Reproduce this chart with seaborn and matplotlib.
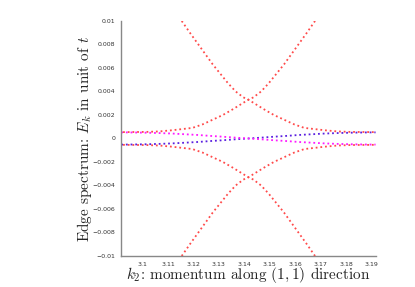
import numpy as np
import pandas as pd
import matplotlib
matplotlib.use("Agg")
import matplotlib.pyplot as plt
import seaborn as sns

# momentum offsets from k2 = pi
dk_red = [-0.0262, -0.023, -0.020, -0.017, -0.014, -0.011, -0.008, -0.005, -0.002,
          0.0, 0.003, 0.006, 0.010, 0.014, 0.018, 0.022, 0.026, 0.030, 0.035, 0.040, 0.050]
# energy of the red branch that falls from the top-left to the right plateau
e_red = [0.0100, 0.0090, 0.0081, 0.0072, 0.0063, 0.0055, 0.0047, 0.0040, 0.0035,
         0.0033, 0.0029, 0.0025, 0.0020, 0.0016, 0.0012, 0.0009, 0.0008, 0.0007,
         0.0006, 0.00056, 0.00054]

# in-gap branches (magenta falls, blue rises)
dk_gap = [-0.05, -0.045, -0.04, -0.035, -0.03, -0.025, -0.02, -0.015, -0.01, -0.005, 0.0,
          0.005, 0.01, 0.015, 0.02, 0.025, 0.03, 0.035, 0.04, 0.045, 0.05]
e_magenta = [0.00052, 0.00051, 0.00049, 0.00046, 0.00042, 0.00036, 0.00030, 0.00022,
             0.00015, 0.00007, 0.0, -0.00007, -0.00015, -0.00022, -0.00030, -0.00036,
             -0.00042, -0.00046, -0.00049, -0.00051, -0.00052]

x_ticks = [3.1, 3.11, 3.12, 3.13, 3.14, 3.15, 3.16, 3.17, 3.18, 3.19]
x_labels = ["3.1", "3.11", "3.12", "3.13", "3.14", "3.15", "3.16", "3.17", "3.18", "3.19"]
y_ticks = [-0.01, -0.008, -0.006, -0.004, -0.002, 0, 0.002, 0.004, 0.006, 0.008, 0.01]
y_labels = ["\u22120.01", "\u22120.008", "\u22120.006", "\u22120.004", "\u22120.002", "0",
            "0.002", "0.004", "0.006", "0.008", "0.01"]

sns.set_style("white")
plt.rcParams["mathtext.fontset"] = "cm"

k0 = np.pi
dk_red = np.array(dk_red)
e_red = np.array(e_red)
dk_gap = np.array(dk_gap)
e_magenta = np.array(e_magenta)

red_curves = [
    (k0 + dk_red, e_red),
    (k0 - dk_red, e_red),
    (k0 + dk_red, -e_red),
    (k0 - dk_red, -e_red),
]

fig = plt.figure(figsize=(4.15, 2.87), dpi=100)
ax = fig.add_axes([0.292, 0.108, 0.613, 0.819])

dots = (0, (1, 1.6))
for kk, ee in red_curves:
    sns.lineplot(x=kk, y=ee, ax=ax, color="#ff4a4a", lw=1.3, linestyle=dots,
                 sort=False, estimator=None)

sns.lineplot(x=k0 + dk_gap, y=-e_magenta, ax=ax, color="#5a1fe0", lw=1.3,
             linestyle=dots, sort=False, estimator=None)
sns.lineplot(x=k0 + dk_gap, y=e_magenta, ax=ax, color="#ff1aff", lw=1.3,
             linestyle=dots, sort=False, estimator=None)

ax.set_xlim(k0 - 0.05, k0 + 0.05)
ax.set_ylim(-0.01, 0.01)
ax.set_xticks(x_ticks)
ax.set_xticklabels(x_labels)
ax.set_yticks(y_ticks)
ax.set_yticklabels(y_labels)
ax.tick_params(labelsize=4.5, colors="#333333", length=2, width=0.6, pad=2)

for side in ["top", "right"]:
    ax.spines[side].set_visible(False)
for side in ["left", "bottom"]:
    ax.spines[side].set_color("#888888")
    ax.spines[side].set_linewidth(1.0)

ax.set_xlabel(r"$k_2$: momentum along $(1,1)$ direction", fontsize=11,
              family="cmr10", labelpad=-1)
ax.set_ylabel(r"Edge spectrum: $E_k$ in unit of $t$", fontsize=11,
              family="cmr10", labelpad=-1)

fig.savefig("out.png", dpi=100)
